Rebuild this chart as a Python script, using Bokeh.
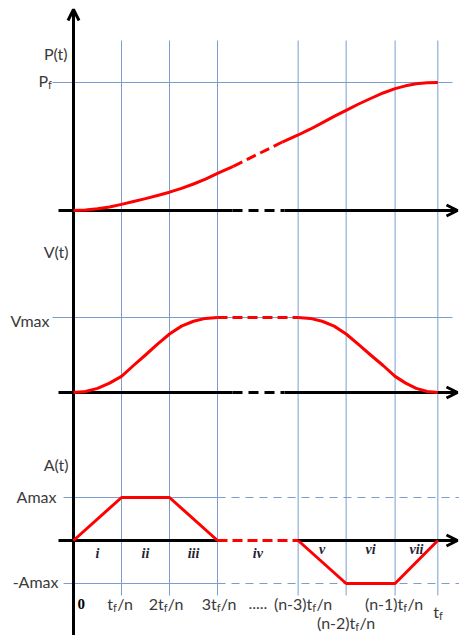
from bokeh.plotting import figure
from bokeh.models import Range1d, Arrow, OpenHead
from bokeh.core.properties import value
from bokeh.embed import file_html
from bokeh.resources import INLINE

# ---------------- data ----------------
# time marks, in units of tf/n along the diagram
tick_t = [0, 1, 2, 3, 4.68, 5.68, 6.70, 7.59]
tick_pre = ["0", "t", "2t", "3t", "(n-3)t", "(n-2)t", "(n-1)t", "t"]
tick_sub = ["", "f", "f", "f", "f", "f", "f", "f"]
tick_post = ["", "/n", "/n", "/n", "/n", "/n", "/n", ""]
phase_labels = ["i", "ii", "iii", "iv", "v", "vi", "vii"]

# position P(t) / Pf
pos_t1 = [0, 0.25, 0.5, 0.75, 1, 1.25, 1.5, 1.75, 2, 2.25, 2.5, 2.75, 3, 3.33]
pos_v1 = [0, 0.004, 0.013, 0.028, 0.048, 0.07, 0.093, 0.117, 0.143, 0.173, 0.207, 0.245, 0.29, 0.345]
pos_t_gap = [3.33, 4.35]
pos_v_gap = [0.345, 0.535]
pos_t2 = [4.35, 4.68, 4.93, 5.18, 5.43, 5.68, 5.93, 6.19, 6.45, 6.70, 6.92, 7.14, 7.37, 7.59]
pos_v2 = [0.535, 0.59, 0.635, 0.685, 0.735, 0.782, 0.83, 0.875, 0.918, 0.952, 0.974, 0.99, 0.998, 1.0]

# velocity V(t) / Vmax
vel_t1 = [0, 0.25, 0.5, 0.75, 1, 1.25, 1.5, 1.75, 2, 2.25, 2.5, 2.75, 3]
vel_v1 = [0, 0.014, 0.055, 0.125, 0.215, 0.36, 0.5, 0.645, 0.78, 0.885, 0.95, 0.988, 1.0]
vel_t_gap = [3, 4.68]
vel_v_gap = [1, 1]
vel_t2 = [4.68, 4.93, 5.18, 5.43, 5.68, 5.93, 6.19, 6.45, 6.70, 6.92, 7.14, 7.37, 7.59]
vel_v2 = [1.0, 0.988, 0.95, 0.885, 0.78, 0.645, 0.5, 0.36, 0.215, 0.125, 0.055, 0.014, 0]

# acceleration A(t) / Amax
acc_t1 = [0, 1, 2, 3]
acc_v1 = [0, 1, 1, 0]
acc_t_gap = [3, 4.68]
acc_v_gap = [0, 0]
acc_t2 = [4.68, 5.68, 6.70, 7.59]
acc_v2 = [0, -1, -1, 0]

# ---------------- layout ----------------
W, H = 459, 635
PX0, UNIT = 73, 48            # page column of t=0, pixels per tf/n


def px(col):
    return (col - PX0) / UNIT


P_BASE, P_UNIT = 210, 128
V_BASE, V_UNIT = 392, 75
A_BASE, A_UNIT = 540, 43


def yP(v):
    return [P_BASE - P_UNIT * a for a in v]


def yV(v):
    return [V_BASE - V_UNIT * a for a in v]


def yA(v):
    return [A_BASE - A_UNIT * a for a in v]


BLUE = "#7a9fcf"
RED = "#ff0000"
TXT = "#3a3a3a"
FONT = value("Lato")
SIZE, SUB_SIZE = 16, 11

p = figure(width=W, height=H, x_range=Range1d(px(0), px(W)),
           y_range=Range1d(H, 0), x_axis_type=None, y_axis_type=None,
           output_backend="svg", toolbar_location=None, min_border=0)
p.grid.visible = False
p.outline_line_color = None

# blue vertical grid lines
g = tick_t[1:]
p.segment(x0=g, y0=[40] * len(g), x1=g, y1=[595] * len(g), line_color=BLUE, line_width=1)

# blue horizontal reference lines
p.segment(x0=[px(52)], y0=yP([1]), x1=[px(452)], y1=yP([1]), line_color=BLUE, line_width=1)
p.segment(x0=[px(52)], y0=yV([1]), x1=[px(452)], y1=yV([1]), line_color=BLUE, line_width=1)
p.segment(x0=[px(63)] * 2, y0=yA([1, -1]), x1=[tick_t[3]] * 2, y1=yA([1, -1]),
          line_color=BLUE, line_width=1)
p.segment(x0=[tick_t[3]] * 2, y0=yA([1, -1]), x1=[px(460)] * 2, y1=yA([1, -1]),
          line_color=BLUE, line_width=1, line_dash="8 6")

# black axes
TIP = px(457)
AX0 = px(58)
for base in (P_BASE, V_BASE):
    p.line([AX0, px(232)], [base, base], line_color="black", line_width=3)
    p.line([px(232), px(284)], [base, base], line_color="black", line_width=3, line_dash="10 6")
    p.line([px(284), TIP], [base, base], line_color="black", line_width=3)
    p.add_layout(Arrow(end=OpenHead(size=11, line_width=3, line_color="black"),
                       x_start=TIP - 0.2, y_start=base, x_end=TIP, y_end=base,
                       line_width=3, line_color="black"))
p.line([AX0, tick_t[3]], [A_BASE, A_BASE], line_color="black", line_width=3)
p.line([tick_t[4], TIP], [A_BASE, A_BASE], line_color="black", line_width=3)
p.add_layout(Arrow(end=OpenHead(size=11, line_width=3, line_color="black"),
                   x_start=TIP - 0.2, y_start=A_BASE, x_end=TIP, y_end=A_BASE,
                   line_width=3, line_color="black"))
# vertical axis
p.line([0, 0], [640, 12], line_color="black", line_width=3)
p.add_layout(Arrow(end=OpenHead(size=11, line_width=3, line_color="black"),
                   x_start=0, y_start=20, x_end=0, y_end=9,
                   line_width=3, line_color="black"))

# red curves
for t1, v1, tg, vg, t2, v2, f in ((pos_t1, pos_v1, pos_t_gap, pos_v_gap, pos_t2, pos_v2, yP),
                                   (vel_t1, vel_v1, vel_t_gap, vel_v_gap, vel_t2, vel_v2, yV),
                                   (acc_t1, acc_v1, acc_t_gap, acc_v_gap, acc_t2, acc_v2, yA)):
    p.line(t1, f(v1), line_color=RED, line_width=3, line_join="round")
    p.line(tg, f(vg), line_color=RED, line_width=3, line_dash="10 5")
    p.line(t2, f(v2), line_color=RED, line_width=3, line_join="round")

# ---------------- texts ----------------
CW = {'t': 0.36, 'n': 0.56, '(': 0.29, ')': 0.29, '-': 0.36, '/': 0.38, 'P': 0.62}


def tw(s, size):
    return sum(CW.get(c, 0.58) for c in s) * size


def sub_text(anchor_cols, ys, pres, subs, posts):
    # main part right-aligned at the anchor, subscript and rest following it
    ax = [px(c) for c in anchor_cols]
    p.text(ax, ys, text=pres, text_font=FONT, text_font_size=value(f"{SIZE}px"),
           text_align="right", text_baseline="middle", text_color=TXT)
    p.text(ax, [y + 3.5 for y in ys], text=subs, text_font=FONT,
           text_font_size=value(f"{SUB_SIZE}px"), text_align="left",
           text_baseline="middle", text_color=TXT)
    p.text(ax, ys, text=posts, text_font=FONT, text_font_size=value(f"{SIZE}px"),
           text_align="left", text_baseline="middle", text_color=TXT,
           x_offset=0.33 * SUB_SIZE + 0.5)


# axis names and levels
p.text([px(67), px(68), px(68)], [53, 251, 464], text=["P(t)", "V(t)", "A(t)"],
       text_font=FONT, text_font_size=value(f"{SIZE}px"), text_align="right",
       text_baseline="middle", text_color=TXT)
p.text([px(49), px(56), px(58)], [yV([1])[0] + 3, yA([1])[0] - 1, yA([-1])[0] - 2],
       text=["Vmax", "Amax", "-Amax"], text_font=FONT, text_font_size=value(f"{SIZE}px"),
       text_align="right", text_baseline="middle", text_color=TXT)
sub_text([47.5], [yP([1])[0] - 2], ["P"], ["f"], [""])

# tick labels
shift = [0, -2, -4, 1, 4, -1, -2, 0]
rows = [603, 603, 603, 603, 603, 622, 603, 611]
anchors, ys, pres, subs, posts = [], [], [], [], []
for i in range(1, len(tick_t)):
    wpre = tw(tick_pre[i], SIZE)
    tot = wpre + 0.33 * SUB_SIZE + tw(tick_post[i], SIZE)
    centre = PX0 + UNIT * tick_t[i] + shift[i]
    anchors.append(centre - tot / 2 + wpre)
    ys.append(rows[i]); pres.append(tick_pre[i]); subs.append(tick_sub[i]); posts.append(tick_post[i])
sub_text(anchors, ys, pres, subs, posts)

p.text([tick_t[0]], [603], text=[tick_pre[0]], x_offset=4,
       text_font=value("Liberation Serif"), text_font_style="bold",
       text_font_size=value("15px"), text_align="left", text_baseline="middle",
       text_color="black")
p.text([(tick_t[3] + tick_t[4]) / 2], [603], text=["....."], text_font=FONT,
       text_font_size=value(f"{SIZE}px"), text_align="center", text_baseline="middle",
       text_color=TXT)

# phase numerals
mids = [(tick_t[i] + tick_t[i + 1]) / 2 for i in range(len(tick_t) - 1)]
p.text(mids, [A_BASE + 13] * 4 + [A_BASE + 9] * 3, text=phase_labels,
       text_font=value("Liberation Serif"), text_font_style="bold italic",
       text_font_size=value("14px"), text_align="center", text_baseline="middle",
       text_color="#1f2233")

open("out.html", "w").write(file_html(p, INLINE))
